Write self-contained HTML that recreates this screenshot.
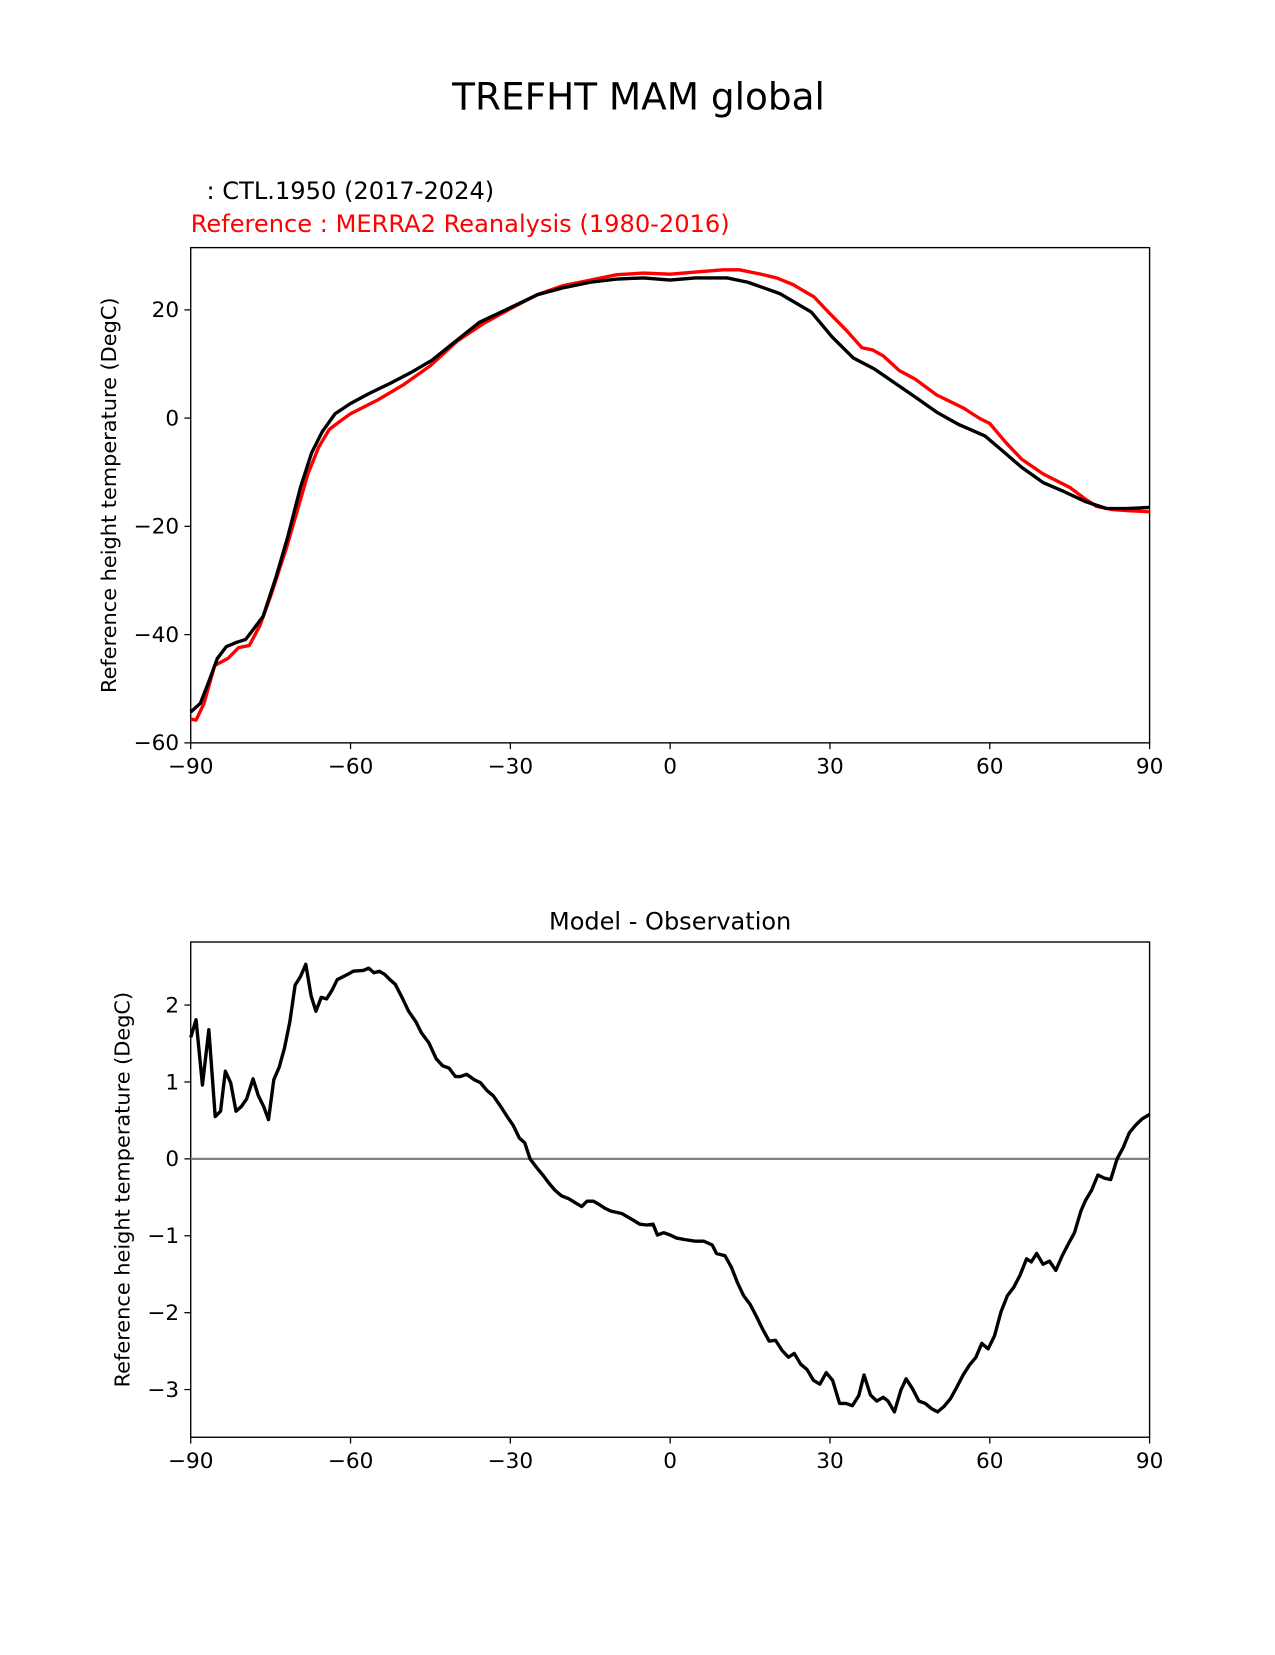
<!DOCTYPE html>
<html><head><meta charset="utf-8"><style>
body{margin:0;background:#fff}
svg text{font-family:"DejaVu Sans","Liberation Sans",sans-serif}
</style></head><body>
<svg width="1275" height="1650" xmlns="http://www.w3.org/2000/svg">
<g id="c" transform="scale(1.0537)">
<text x="606" y="104" font-size="35.5" text-anchor="middle">TREFHT MAM global</text>
<text x="196" y="189" font-size="22.9">: CTL.1950 (2017-2024)</text>
<text x="181" y="220" font-size="22.9" fill="red">Reference : MERRA2 Reanalysis (1980-2016)</text>
<text x="636" y="882" font-size="22.8" text-anchor="middle">Model - Observation</text>
<text transform="translate(110,470) rotate(-90)" font-size="19.8" text-anchor="middle">Reference height temperature (DegC)</text>
<text transform="translate(123,1129) rotate(-90)" font-size="19.8" text-anchor="middle">Reference height temperature (DegC)</text>
</g>
</svg>
<script>
const modelLat=[-90,-88.2,-86.8,-85,-83.3,-81.3,-79.7,-78.3,-76.4,-74,-71.8,-69.4,-67.3,-65.3,-62.9,-60,-56.6,-52.6,-48.7,-44.7,-40.8,-35.8,-30,-24.9,-20,-15,-9.9,-5,0,4.7,10.7,14.6,20.6,26.5,30.4,34.4,38.3,42.3,46.3,50.2,54.2,59.1,62.1,66,70,74,77.9,81.9,85.8,90];
const modelVal=[-54.3,-52.7,-49.2,-44.4,-42.2,-41.4,-40.9,-39.1,-36.6,-29.4,-22,-12.8,-6.4,-2.5,0.8,2.7,4.5,6.4,8.4,10.7,13.8,17.7,20.4,22.8,24.1,25.1,25.7,25.9,25.5,25.9,25.9,25.1,23,19.6,15,11.1,9.1,6.4,3.7,1,-1.2,-3.3,-5.8,-9.1,-11.9,-13.6,-15.4,-16.7,-16.7,-16.5];
const obsLat=[-90,-89,-87.5,-85.5,-83,-81,-79,-77,-75,-72,-70,-68,-66,-64,-62,-60,-55,-50,-45,-40,-35,-30,-25,-20,-15,-10,-5,0,5,10,13,17,20,23,27,30,33,36,38,40,43,46,50,55,58,60,63,66,70,75,78,80,83,86,90];
const obsVal=[-55.6,-55.8,-52.7,-45.7,-44.4,-42.4,-42,-38.3,-32.9,-23.9,-17.1,-10.3,-5.4,-2.1,-0.6,0.8,3.3,6.2,9.7,14.2,17.5,20.2,22.8,24.5,25.5,26.5,26.8,26.6,27,27.4,27.4,26.6,25.9,24.7,22.4,19.3,16.3,13,12.6,11.5,8.8,7.2,4.3,1.9,0,-1,-4.5,-7.6,-10.3,-12.8,-15,-16.3,-16.9,-17.1,-17.3];
const diffLat=[-90,-89,-87.8,-86.6,-85.4,-84.4,-83.5,-82.5,-81.5,-80.5,-79.5,-78.3,-77.3,-76.3,-75.4,-74.4,-73.4,-72.4,-71.4,-70.4,-69.4,-68.4,-67.4,-66.5,-65.5,-64.5,-63.5,-62.5,-60.5,-59.5,-57.6,-56.6,-55.6,-54.6,-53.6,-52.6,-51.6,-50.2,-49.1,-47.7,-46.7,-45.3,-43.9,-42.7,-41.5,-40.3,-39.4,-38.2,-36.8,-35.6,-34.4,-33.2,-31.8,-30.6,-29.5,-28.3,-27.3,-26.3,-25.1,-23.9,-22.7,-21.6,-20.4,-19,-17.6,-16.6,-15.6,-14.4,-13.4,-12.3,-11.1,-9.1,-7.1,-5.7,-4.4,-3.2,-2.4,-1.2,0,1.2,2.8,4.7,6.3,7.9,8.7,10.3,11.5,12.7,13.8,15,16.2,17.4,18.6,19.8,21,22.2,23.3,24.5,25.7,26.9,28.1,29.3,30.5,31.8,33,34.2,35.4,36.4,37.6,38.8,40,40.9,42.1,43.3,44.3,45.5,46.7,47.9,49.1,50.2,51.4,52.6,53.8,55,56.2,57.4,58.5,59.7,60.9,62.1,63.3,64.5,65.7,66.9,67.8,68.8,70,71.2,72.4,73.6,74.8,75.9,77.1,77.9,79.1,80.3,81.5,82.7,83.9,85,86.2,87.4,88.6,90];
const diffVal=[1.58,1.81,0.96,1.68,0.55,0.62,1.14,0.99,0.62,0.68,0.78,1.04,0.82,0.68,0.51,1.03,1.19,1.44,1.78,2.26,2.37,2.53,2.12,1.92,2.1,2.08,2.19,2.33,2.4,2.44,2.45,2.48,2.42,2.44,2.4,2.33,2.27,2.08,1.92,1.78,1.64,1.51,1.3,1.21,1.18,1.07,1.07,1.1,1.03,0.99,0.89,0.82,0.68,0.55,0.44,0.27,0.21,0,-0.11,-0.21,-0.32,-0.41,-0.48,-0.52,-0.58,-0.62,-0.55,-0.55,-0.59,-0.64,-0.68,-0.71,-0.79,-0.85,-0.86,-0.85,-0.99,-0.96,-0.99,-1.03,-1.05,-1.07,-1.07,-1.12,-1.23,-1.26,-1.41,-1.62,-1.78,-1.89,-2.05,-2.22,-2.37,-2.36,-2.49,-2.58,-2.53,-2.67,-2.74,-2.88,-2.93,-2.78,-2.88,-3.18,-3.18,-3.21,-3.08,-2.81,-3.07,-3.15,-3.1,-3.15,-3.29,-3.01,-2.86,-2.99,-3.15,-3.18,-3.25,-3.29,-3.22,-3.12,-2.97,-2.81,-2.68,-2.58,-2.4,-2.47,-2.3,-1.99,-1.78,-1.67,-1.51,-1.3,-1.34,-1.23,-1.37,-1.33,-1.45,-1.26,-1.1,-0.96,-0.68,-0.55,-0.41,-0.21,-0.25,-0.27,0,0.14,0.34,0.44,0.52,0.58];
const xTicks=[-90,-60,-30,0,30,60,90];
const xTickLabels=["\u221290","\u221260","\u221230","0","30","60","90"];
const topYTicks=[-60,-40,-20,0,20];
const topYTickLabels=["\u221260","\u221240","\u221220","0","20"];
const botYTicks=[-3,-2,-1,0,1,2];
const botYTickLabels=["\u22123","\u22122","\u22121","0","1","2"];

const NS="http://www.w3.org/2000/svg",svg=document.getElementById('c');
function mk(t,a){const e=document.createElementNS(NS,t);for(const k in a)e.setAttribute(k,a[k]);svg.appendChild(e);return e;}
const X=lat=>181+(lat+90)/180*910;
function axes(top,bot,vmin,vmax,yt,ytl,pref){
  const Y=v=>bot-(v-vmin)/(vmax-vmin)*(bot-top);
  const f=mk('rect',{x:181,y:top,width:910,height:bot-top,fill:'none',stroke:'#000','stroke-width':1.3});
  
  
  xTicks.forEach((t,i)=>{
    const l=mk('line',{x1:X(t),x2:X(t),y1:bot,y2:bot+6,stroke:'#000','stroke-width':1.2});
    
    
    const tx=mk('text',{x:X(t),y:bot+29,'font-size':20.5,'text-anchor':'middle'});tx.textContent=xTickLabels[i];
    
    
  });
  yt.forEach((t,i)=>{
    const l=mk('line',{x1:175,x2:181,y1:Y(t),y2:Y(t),stroke:'#000','stroke-width':1.2});
    
    
    const tx=mk('text',{x:170,y:Y(t)+7,'font-size':20.5,'text-anchor':'end'});tx.textContent=ytl[i];
    
    
  });
  return Y;
}
function line(lats,vals,Y,col,name){
  const p=mk('polyline',{points:lats.map((l,i)=>X(l)+','+Y(vals[i])).join(' '),fill:'none',stroke:col,'stroke-width':3.2,'stroke-linejoin':'round'});
  
  
}
const Yt=axes(235,705,-60,31.5,topYTicks,topYTickLabels,'top');
line(obsLat,obsVal,Yt,'#ff0000','obs-line');
line(modelLat,modelVal,Yt,'#000','model-line');
const Yb=axes(894,1364,-3.62,2.82,botYTicks,botYTickLabels,'bottom');
const z=mk('line',{x1:181,x2:1091,y1:Yb(0),y2:Yb(0),stroke:'#808080','stroke-width':2.2});


line(diffLat,diffVal,Yb,'#000','difference-line');
</script>
</body></html>
